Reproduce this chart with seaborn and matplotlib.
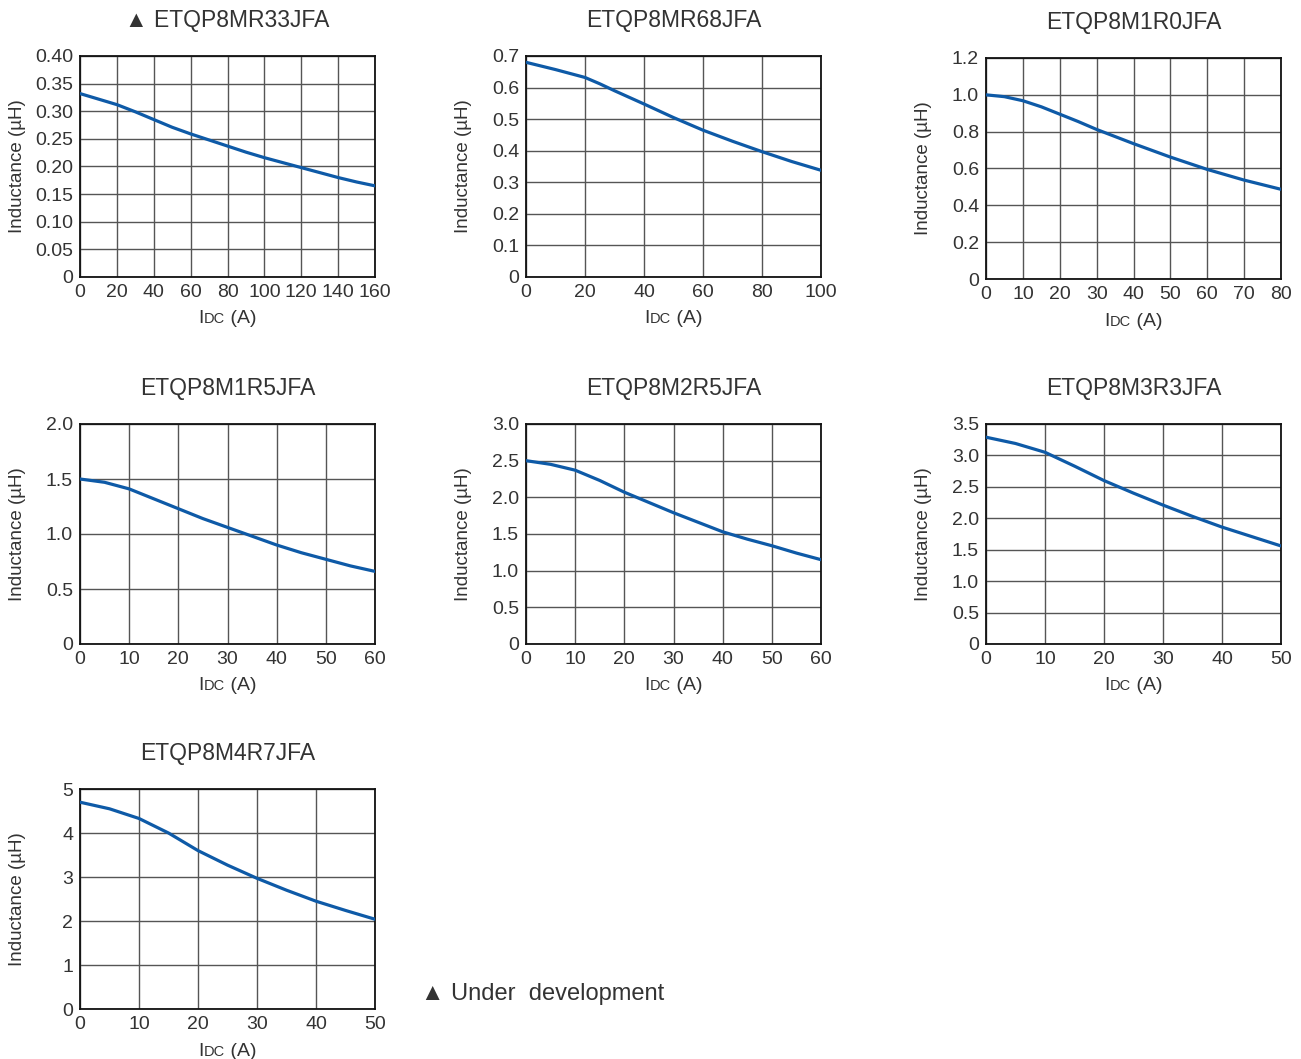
import numpy as np
import pandas as pd
import matplotlib
matplotlib.use("Agg")
import matplotlib.pyplot as plt
from matplotlib.offsetbox import TextArea, HPacker, AnnotationBbox
import seaborn as sns

# ---- data ----
titles = ["\u25b2 ETQP8MR33JFA", "ETQP8MR68JFA", "ETQP8M1R0JFA",
          "ETQP8M1R5JFA", "ETQP8M2R5JFA", "ETQP8M3R3JFA", "ETQP8M4R7JFA"]

idc_r33 = [0, 10, 20, 30, 40, 50, 60, 70, 80, 90, 100, 110, 120, 130, 140, 150, 160]
ind_r33 = [0.332, 0.322, 0.312, 0.299, 0.285, 0.271, 0.259, 0.248, 0.237, 0.226,
           0.216, 0.207, 0.198, 0.189, 0.180, 0.172, 0.165]

idc_r68 = [0, 10, 20, 25, 30, 40, 50, 60, 70, 80, 90, 100]
ind_r68 = [0.680, 0.657, 0.632, 0.612, 0.590, 0.548, 0.505, 0.465, 0.430, 0.397, 0.366, 0.338]

idc_1r0 = [0, 5, 10, 15, 20, 25, 30, 40, 50, 60, 70, 80]
ind_1r0 = [1.0, 0.99, 0.968, 0.935, 0.895, 0.855, 0.812, 0.735, 0.662, 0.595, 0.537, 0.487]

idc_1r5 = [0, 5, 10, 15, 20, 25, 30, 35, 40, 45, 50, 55, 60]
ind_1r5 = [1.50, 1.47, 1.41, 1.32, 1.23, 1.14, 1.06, 0.98, 0.90, 0.83, 0.77, 0.71, 0.66]

idc_2r5 = [0, 5, 10, 15, 20, 25, 30, 35, 40, 45, 50, 55, 60]
ind_2r5 = [2.50, 2.45, 2.37, 2.23, 2.07, 1.93, 1.79, 1.66, 1.53, 1.43, 1.34, 1.24, 1.15]

idc_3r3 = [0, 5, 10, 15, 20, 25, 30, 35, 40, 45, 50]
ind_3r3 = [3.29, 3.19, 3.05, 2.83, 2.60, 2.40, 2.21, 2.03, 1.86, 1.71, 1.56]

idc_4r7 = [0, 5, 10, 15, 20, 25, 30, 35, 40, 45, 50]
ind_4r7 = [4.70, 4.55, 4.33, 4.00, 3.60, 3.27, 2.97, 2.70, 2.45, 2.24, 2.04]

xticks = [np.arange(0, 161, 20), np.arange(0, 101, 20), np.arange(0, 81, 10),
          np.arange(0, 61, 10), np.arange(0, 61, 10), np.arange(0, 51, 10),
          np.arange(0, 51, 10)]
yticks = [np.arange(0, 0.401, 0.05), np.arange(0, 0.701, 0.1), np.arange(0, 1.201, 0.2),
          np.arange(0, 2.01, 0.5), np.arange(0, 3.01, 0.5), np.arange(0, 3.51, 0.5),
          np.arange(0, 5.01, 1)]
yfmt = ["{:.2f}", "{:.1f}", "{:.1f}", "{:.1f}", "{:.1f}", "{:.1f}", "{:.0f}"]

series = [(idc_r33, ind_r33), (idc_r68, ind_r68), (idc_1r0, ind_1r0), (idc_1r5, ind_1r5),
          (idc_2r5, ind_2r5), (idc_3r3, ind_3r3), (idc_4r7, ind_4r7)]

# axes boxes in pixels: left, top, right, bottom
boxes = [(80, 56, 375, 277), (526, 56, 821, 277), (986, 58, 1281, 279),
         (80, 424, 375, 644), (526, 424, 821, 644), (986, 424, 1281, 644),
         (80, 789, 375, 1009)]

sns.set_style("white")
plt.rcParams['font.family'] = ['Liberation Sans', 'DejaVu Sans']
txt = '#333333'
line_col = '#0e5aa7'

W, H = 1301, 1059
fig = plt.figure(figsize=(W / 100, H / 100), dpi=100)

for i, (box, (x, y)) in enumerate(zip(boxes, series)):
    l, t, r, b = box
    aw, ah = r - l, b - t
    ax = fig.add_axes([l / W, 1 - b / H, aw / W, ah / H])
    df = pd.DataFrame({'Idc': x, 'L': y})
    sns.lineplot(data=df, x='Idc', y='L', ax=ax, color=line_col, linewidth=2.3, zorder=3)
    ax.set_xlim(xticks[i][0], xticks[i][-1])
    ax.set_ylim(yticks[i][0], yticks[i][-1])
    ax.set_xticks(xticks[i])
    ax.set_yticks(yticks[i])
    ax.set_yticklabels(["0"] + [yfmt[i].format(v) for v in yticks[i][1:]])
    ax.tick_params(length=0, labelsize=14, labelcolor=txt)
    ax.tick_params(axis='x', pad=5)
    ax.tick_params(axis='y', pad=5)
    ax.grid(True, color='#555555', linewidth=1.0)
    for s in ax.spines.values():
        s.set_color('#111111')
        s.set_linewidth(1.3)
    ax.set_xlabel('')
    ax.set_ylabel('Inductance (\u00b5H)', fontsize=13.5, color=txt)
    ax.yaxis.set_label_coords(-54 / aw, 0.5)
    ax.set_title(titles[i], fontsize=16.5, color=txt, pad=21)

    # x label "IDC (A)" with small-caps style DC on the baseline
    parts = [TextArea("I", textprops=dict(fontsize=14, color=txt)),
             TextArea("DC", textprops=dict(fontsize=10.5, color=txt)),
             TextArea(" (A)", textprops=dict(fontsize=14, color=txt))]
    pack = HPacker(children=parts, align="baseline", pad=0, sep=0)
    ab = AnnotationBbox(pack, (0.5, -42 / ah), xycoords='axes fraction',
                        frameon=False, box_alignment=(0.5, 0.5), annotation_clip=False)
    ax.add_artist(ab)

fig.text(421 / W, 1 - 994 / H, "\u25b2 Under  development", fontsize=17, color=txt,
         va='center', ha='left')

fig.savefig("out.png", dpi=100)
